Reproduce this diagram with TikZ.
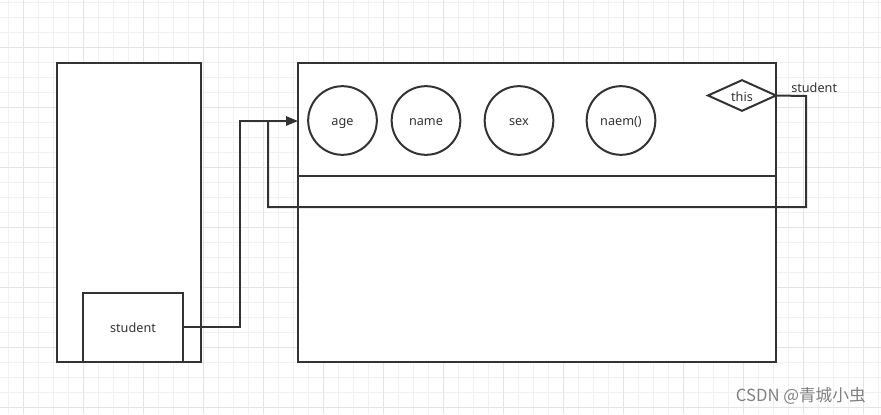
\documentclass[tikz,border=0pt]{standalone}
\usepackage{fontspec}
\setmainfont{Noto Sans}
\newfontfamily\cjk{Noto Sans CJK SC}
\usetikzlibrary{shapes.geometric,arrows.meta}
\definecolor{ink}{HTML}{333333}
\definecolor{gridminor}{HTML}{F1F1F1}
\definecolor{gridmajor}{HTML}{E4E4E4}
\tikzset{
  box/.style={draw=ink,line width=1.5pt,fill=white},
  blob/.style={draw=ink,line width=1.5pt,fill=white,circle,minimum size=51.5pt,inner sep=0pt,text height=9pt,text depth=1pt,font=\fontsize{9.5}{11}\selectfont,text=ink},
  wire/.style={draw=ink,line width=1.5pt},
  lbl/.style={font=\fontsize{9.5}{11}\selectfont,text=ink,inner sep=0pt}
}
\begin{document}
\begin{tikzpicture}[x=0.75pt,y=-0.75pt]
\useasboundingbox (0,0) rectangle (881,414);
\fill[white] (0,0) rectangle (881,414);
% grid
\foreach \i in {0,...,58} {
  \pgfmathsetmacro{\xx}{8+15*\i}
  \draw[gridminor,line width=0.75pt] (\xx,0) -- (\xx,414);
}
\foreach \i in {0,...,27} {
  \pgfmathsetmacro{\yy}{2+15*\i}
  \draw[gridminor,line width=0.75pt] (0,\yy) -- (881,\yy);
}
\foreach \i in {0,...,14} {
  \pgfmathsetmacro{\xx}{23+60*\i}
  \draw[gridmajor,line width=0.75pt] (\xx,0) -- (\xx,414);
}
\foreach \i in {0,...,6} {
  \pgfmathsetmacro{\yy}{47+60*\i}
  \draw[gridmajor,line width=0.75pt] (0,\yy) -- (881,\yy);
}
% left stack frame
\draw[box] (57,63) rectangle (201,362);
\node[box,minimum width=75pt,minimum height=51.75pt,anchor=north west,inner sep=0pt,outer sep=0pt] (stu) at (83,293) {};
\node[lbl] at (133,328) {student};
% main object box
\draw[box] (298,63) rectangle (776,362);
\coordinate (objin) at (298,121);
\draw[wire] (298,176) -- (776,176);
% fields
\node[blob] (age) at (342.5,120.5) {age};
\node[blob] (name) at (426,120.5) {name};
\node[blob] (sex) at (519,120.5) {sex};
\node[blob] (naem) at (621,120.5) {naem()};
% this diamond
\node[diamond,draw=ink,line width=1.5pt,fill=white,minimum width=51pt,minimum height=23pt,inner sep=0pt,outer sep=0pt,aspect=2.2] (this) at (742,95.5) {};
\node[lbl] at (742,97) {this};
\node[lbl,anchor=west] at (791,88) {student};
% connectors
\coordinate (c1) at (240,327);
\coordinate (c2) at (240,121);
\draw[wire,-{Triangle[length=9pt,width=7pt]}] (stu.east |- 0,327) -- (c1) -- (c2) -- (objin);
\coordinate (t1) at (806,96);
\coordinate (t2) at (806,207);
\coordinate (t3) at (268,207);
\coordinate (t4) at (268,121);
\draw[wire] (this.east) -- (t1) -- (t2) -- (t3) -- (t4);
% watermark
\node[font=\cjk\fontsize{12.5}{14}\selectfont,text=black!50,anchor=east,inner sep=0pt] at (866,396) {CSDN @青城小虫};
\end{tikzpicture}
\end{document}
